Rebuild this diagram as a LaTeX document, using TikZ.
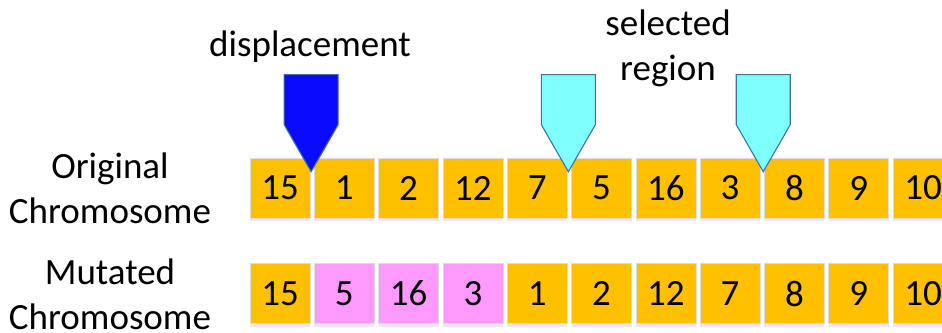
\documentclass[tikz,border=0pt]{standalone}
\usepackage{fontspec}
\setmainfont{Carlito}
\usetikzlibrary{calc,shadows}
\definecolor{geneorange}{HTML}{FFC000}
\definecolor{genepink}{HTML}{FF99FF}
\definecolor{geneedge}{HTML}{DCDCDC}
\definecolor{markblue}{HTML}{0A0AFF}
\definecolor{markcyan}{HTML}{80FFFF}
\definecolor{markedge}{HTML}{41719C}
\begin{document}
\begin{tikzpicture}[x=1pt,y=1pt,
  gene/.style={minimum width=60pt, minimum height=60pt, inner sep=0pt,
    fill=geneorange, draw=geneedge, line width=0.6pt,
    font=\fontsize{37}{44}\selectfont,
    drop shadow={shadow xshift=0pt, shadow yshift=-3pt, fill=blue!50!gray, opacity=0.12}},
  moved/.style={fill=genepink},
  label/.style={font=\fontsize{37}{45}\selectfont, align=center, inner sep=0pt},
  marker/.style={draw=markedge, line width=1.1pt, line join=miter}]
  \useasboundingbox (0,0) rectangle (942,332);
  \clip (0,0) rectangle (942,332);

  % original chromosome
  \foreach \v [count=\i] in {15,1,2,12,7,5,16,3,8,9,10}
    \node[gene] (o\i) at ({280+64.3*(\i-1)},144) {\v};

  % mutated chromosome: the selected region (5,16,3) is inserted after 15
  \foreach \v/\s [count=\i] in {15/,5/moved,16/moved,3/moved,1/,2/,12/,7/,8/,9/,10/}
    \node[gene,\s] (m\i) at ({280+64.3*(\i-1)},38.5) {\v};

  % row labels
  \node[label] (orig) at (110,144) {Original\\Chromosome};
  \node[label] (mut) at (110,37.5) {Mutated\\Chromosome};

  % pointer markers between genes
  \coordinate (pd) at ($(o1.north east)!0.5!(o2.north west)+(-1,-14)$);
  \coordinate (ps) at ($(o5.north east)!0.5!(o6.north west)+(-1,-14)$);
  \coordinate (pe) at ($(o8.north east)!0.5!(o9.north west)+(1,-14)$);
  \foreach \p/\c in {pd/markblue, ps/markcyan, pe/markcyan}
    \draw[marker, fill=\c] (\p) -- ++(-27,47) -- ++(0,50) -- ++(54,0) -- ++(0,-50) -- cycle;

  % marker captions
  \node[label] (disp) at (310,285) {displacement};
  \node[label] (selreg) at (668,284) {selected\\region};
\end{tikzpicture}
\end{document}
